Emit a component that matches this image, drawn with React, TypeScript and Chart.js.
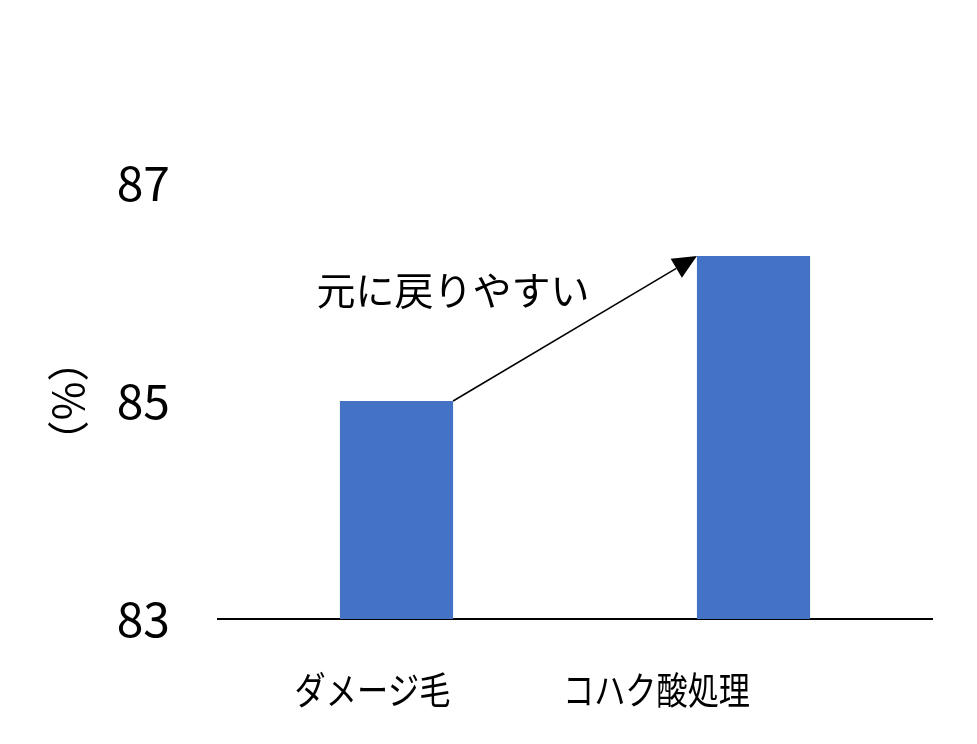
import React, { useEffect, useRef } from "react";
import { Chart, registerables } from "chart.js";

Chart.register(...registerables);

const categories = ["ダメージ毛", "コハク酸処理"];
const values = [85.0, 86.33];
const yTicks = [83, 85, 87];
const yMin = 83;
const yMax = 87;
const yTitle = "（%）";
const annotationText = "元に戻りやすい";
const annotationValue = 86.02;

const FONT = "'Noto Sans CJK JP', 'Noto Sans', sans-serif";

// horizontal shift of each category label relative to its bar (as in the source picture)
const LABEL_SHIFT = [-24, -97];

const arrowPlugin = {
  id: "arrowAnno",
  afterDatasetsDraw(chart: any) {
    const { ctx, chartArea, scales } = chart;
    const meta = chart.getDatasetMeta(0);
    const b1 = meta.data[0] as any;
    const b2 = meta.data[1] as any;
    const x1 = b1.x + b1.width / 2;
    const y1 = b1.y;
    const x2 = b2.x - b2.width / 2;
    const y2 = b2.y;
    ctx.save();
    const ang = Math.atan2(y2 - y1, x2 - x1);
    const headLen = 24;
    const headW = 11;
    const bx = x2 - headLen * Math.cos(ang);
    const by = y2 - headLen * Math.sin(ang);
    ctx.strokeStyle = "#000";
    ctx.lineWidth = 1.5;
    ctx.beginPath();
    ctx.moveTo(x1, y1);
    ctx.lineTo(bx, by);
    ctx.stroke();
    ctx.fillStyle = "#000";
    ctx.beginPath();
    ctx.moveTo(x2, y2);
    ctx.lineTo(bx + headW * Math.sin(ang), by - headW * Math.cos(ang));
    ctx.lineTo(bx - headW * Math.sin(ang), by + headW * Math.cos(ang));
    ctx.closePath();
    ctx.fill();

    // annotation text
    ctx.font = `39px ${FONT}`;
    ctx.textAlign = "center";
    ctx.textBaseline = "middle";
    ctx.fillText(annotationText, x1, scales.y.getPixelForValue(annotationValue));

    // category labels (slightly condensed, as in the source)
    const xs = scales.x;
    ctx.font = `38px ${FONT}`;
    categories.forEach((c, i) => {
      const cx = xs.getPixelForTick(i) + LABEL_SHIFT[i];
      ctx.save();
      ctx.translate(cx, chartArea.bottom + 71);
      ctx.scale(0.82, 1);
      ctx.fillText(c, 0, 0);
      ctx.restore();
    });

    // y title
    ctx.translate(68, (chartArea.top + chartArea.bottom) / 2);
    ctx.rotate(-Math.PI / 2);
    ctx.font = `42px ${FONT}`;
    ctx.fillText(yTitle, 0, 0);
    ctx.restore();
  },
};

export default function App() {
  const ref = useRef<HTMLCanvasElement | null>(null);
  useEffect(() => {
    if (!ref.current) return;
    const chart = new Chart(ref.current, {
      type: "bar",
      data: {
        labels: categories,
        datasets: [
          {
            data: values,
            backgroundColor: "#4472C4",
            borderWidth: 0,
            barPercentage: 0.317,
            categoryPercentage: 1,
            base: yMin,
          } as any,
        ],
      },
      options: {
        responsive: false,
        animation: false,
        layout: { padding: { top: 183, right: 45, left: 0, bottom: 0 } },
        plugins: { legend: { display: false }, tooltip: { enabled: false } },
        scales: {
          x: {
            grid: { display: false },
            border: { display: true, color: "#000", width: 2 },
            ticks: { display: false },
            afterFit: (s: any) => {
              s.height = 125;
            },
          },
          y: {
            min: yMin,
            max: yMax,
            grid: { display: false },
            border: { display: false },
            afterBuildTicks: (s: any) => {
              s.ticks = yTicks.map((v) => ({ value: v }));
            },
            ticks: { color: "#000", font: { family: FONT, size: 48 }, padding: 40 },
            afterFit: (s: any) => {
              s.width = 218;
            },
          },
        },
      },
      plugins: [arrowPlugin],
    });
    return () => chart.destroy();
  }, []);
  return (
    <div style={{ position: "absolute", left: 0, top: 0, width: 977, height: 744, background: "#fff" }}>
      <canvas ref={ref} width={977} height={744} style={{ display: "block" }} />
    </div>
  );
}
